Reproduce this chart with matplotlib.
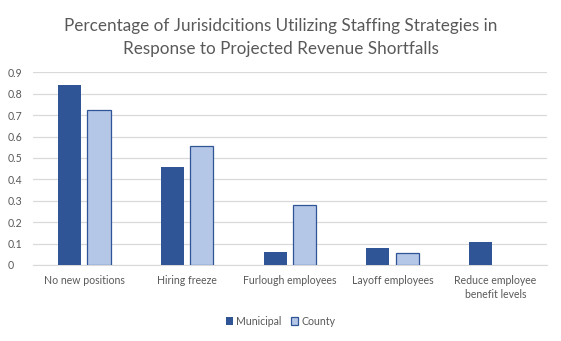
import matplotlib
matplotlib.use("Agg")
import matplotlib.pyplot as plt
import numpy as np

categories = ["No new positions", "Hiring freeze", "Furlough employees",
              "Layoff employees", "Reduce employee\nbenefit levels"]
municipal = [0.84, 0.458, 0.061, 0.079, 0.107]
county = [0.722, 0.554, 0.279, 0.055, 0.0]
y_ticks = [0, 0.1, 0.2, 0.3, 0.4, 0.5, 0.6, 0.7, 0.8, 0.9]
y_tick_labels = ["0", "0.1", "0.2", "0.3", "0.4", "0.5", "0.6", "0.7", "0.8", "0.9"]

plt.rcParams["font.family"] = ["Lato", "DejaVu Sans"]
text_color = "#595959"
dark_blue = "#2F5597"
light_blue = "#B4C7E7"

fig = plt.figure(figsize=(5.61, 3.41), dpi=100)
ax = fig.add_axes([0.0588, 0.2229, 0.9157, 0.5651])

x = np.arange(len(categories))
w = 0.225
off = 0.143
ax.bar(x - off, municipal, width=w, color=dark_blue, label="Municipal", zorder=3)
ax.bar(x + off, county, width=w, color=light_blue, edgecolor=dark_blue,
       linewidth=[0.9 if v > 0 else 0 for v in county], label="County", zorder=3)

ax.set_xlim(-0.5, len(categories) - 0.5)
ax.set_ylim(0, 0.9)
ax.set_yticks(y_ticks)
ax.set_yticklabels(y_tick_labels)
ax.set_xticks(x)
ax.set_xticklabels(categories, linespacing=1.3)
ax.yaxis.grid(True, color="#D9D9D9", linewidth=0.9, zorder=0)
for s in ["top", "right", "left"]:
    ax.spines[s].set_visible(False)
ax.spines["bottom"].set_color("#D9D9D9")
ax.tick_params(axis="both", length=0, colors=text_color, labelsize=7.6)
ax.tick_params(axis="x", pad=7.5)
for lbl in ax.get_yticklabels():
    lbl.set_horizontalalignment("left")
ax.tick_params(axis="y", pad=18)

fig.text(0.5, 0.89, "Percentage of Jurisidcitions Utilizing Staffing Strategies in\nResponse to Projected Revenue Shortfalls",
         ha="center", va="center", fontsize=12.3, color=text_color, linespacing=1.55)

leg = fig.legend(loc="center", bbox_to_anchor=(0.5, 0.058), ncol=2, frameon=False,
                 fontsize=7.6, handlelength=0.7, handleheight=0.7, handletextpad=0.3,
                 columnspacing=0.9, labelcolor=text_color)

fig.savefig("out.png", dpi=100)
